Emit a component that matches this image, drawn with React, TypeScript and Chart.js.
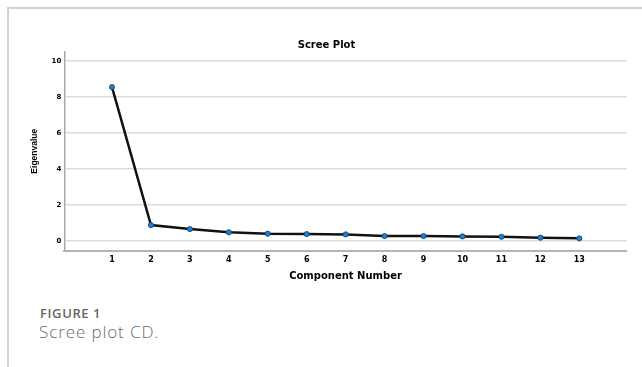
import React, { useEffect, useRef } from "react";
import { Chart, registerables } from "chart.js";

Chart.register(...registerables);

const components = [1, 2, 3, 4, 5, 6, 7, 8, 9, 10, 11, 12, 13];
const eigenvalues = [8.56, 0.87, 0.65, 0.47, 0.39, 0.37, 0.35, 0.26, 0.26, 0.24, 0.22, 0.17, 0.13];
const yTicks = [0, 2, 4, 6, 8, 10];
const xTicks = components;

const chartTitle = "Scree Plot";
const xTitle = "Component Number";
const yTitle = "Eigenvalue";
const figLabel = "FIGURE 1";
const figCaption = "Scree plot CD.";

export default function App() {
  const ref = useRef<HTMLCanvasElement | null>(null);

  useEffect(() => {
    if (!ref.current) return;
    const chart = new Chart(ref.current, {
      type: "line",
      data: {
        datasets: [
          {
            data: components.map((c, i) => ({ x: c, y: eigenvalues[i] })),
            borderColor: "#111111",
            borderWidth: 2.5,
            pointRadius: 2.6,
            pointBackgroundColor: "#1f7fd6",
            pointBorderColor: "#0d3f70",
            pointBorderWidth: 0.8,
            tension: 0,
          },
        ],
      },
      options: {
        animation: false,
        responsive: false,
        layout: { padding: { left: 26.3, right: 15.3, top: 0, bottom: 0 } },
        plugins: {
          legend: { display: false },
          tooltip: { enabled: false },
          title: {
            display: true,
            text: chartTitle,
            color: "#000",
            font: { family: "DejaVu Sans", size: 10, weight: "bold", lineHeight: 1.2 },
            padding: { top: 39, bottom: 0.7 },
          },
        },
        scales: {
          x: {
            type: "linear",
            min: -0.225,
            max: 14.217,
            afterBuildTicks: (s: any) => {
              s.ticks = xTicks.map((v) => ({ value: v }));
            },
            afterFit: (s: any) => {
              s.height = 49.3;
            },
            grid: { display: false, drawTicks: false },
            border: { display: true, color: "#b3b3b3", width: 2 },
            ticks: {
              color: "#000",
              padding: 4.5,
              font: { family: "DejaVu Sans", size: 8, weight: "bold" },
              autoSkip: false,
              maxRotation: 0,
            },
            title: {
              display: true,
              text: xTitle,
              color: "#000",
              font: { family: "DejaVu Sans", size: 10, weight: "bold", lineHeight: 1.2 },
              padding: { top: 0, bottom: 18 },
            },
          },
          y: {
            type: "linear",
            min: -0.557,
            max: 10.53,
            afterBuildTicks: (s: any) => {
              s.ticks = yTicks.map((v) => ({ value: v }));
            },
            afterFit: (s: any) => {
              s.width = 38;
            },
            grid: { color: "#dcdcdc", lineWidth: 1.5, drawTicks: false },
            border: { display: true, color: "#a8a8a8", width: 1.5 },
            ticks: {
              color: "#000",
              padding: 3,
              font: { family: "DejaVu Sans", size: 7, weight: "bold" },
            },
            title: {
              display: true,
              text: yTitle,
              color: "#000",
              font: { family: "Liberation Sans", size: 8.5, weight: "bold", lineHeight: 1.2 },
              padding: { top: 3.5, bottom: 0 },
            },
          },
        },
      },
    });
    return () => chart.destroy();
  }, []);

  return (
    <div style={{ position: "fixed", left: 0, top: 0, width: 642, height: 367, background: "#fff", overflow: "hidden" }}>
      <div style={{ position: "absolute", left: 6.5, top: 6.5, width: 642, height: 2, background: "#d2d2d2" }} />
      <div style={{ position: "absolute", left: 6.5, top: 6.5, width: 2, height: 370, background: "#d2d2d2" }} />
      <canvas ref={ref} width={642} height={300} style={{ position: "absolute", left: 0, top: 0, width: 642, height: 300 }} />
      <div
        style={{
          position: "absolute",
          left: 40,
          top: 304,
          fontFamily: "'Open Sans', sans-serif",
          fontWeight: 600,
          fontSize: 13,
          letterSpacing: 0.6,
          color: "#666666",
          lineHeight: "18px",
          whiteSpace: "nowrap",
        }}
      >
        {figLabel}
      </div>
      <div
        style={{
          position: "absolute",
          left: 39,
          top: 320,
          fontFamily: "'Open Sans', sans-serif",
          fontWeight: 300,
          fontSize: 17,
          letterSpacing: 0.9,
          color: "#6a6a6a",
          lineHeight: "24px",
          whiteSpace: "nowrap",
        }}
      >
        {figCaption}
      </div>
    </div>
  );
}
